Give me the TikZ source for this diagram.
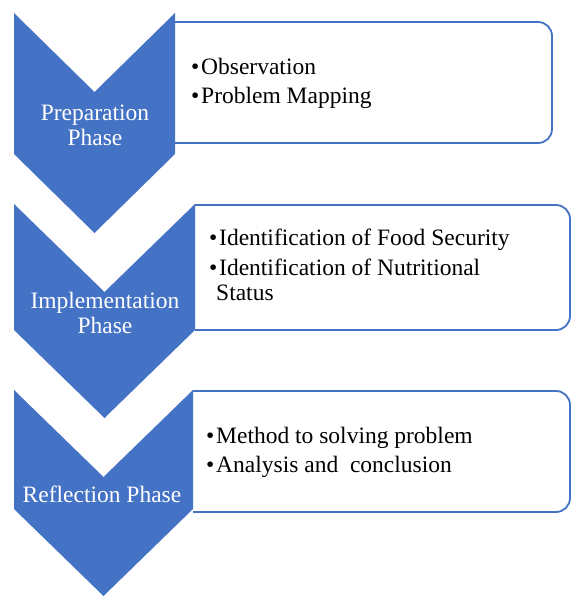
\documentclass[tikz,border=0pt]{standalone}
\usepackage{fontspec}
\setmainfont{Liberation Serif}
\definecolor{phaseblue}{HTML}{4472C4}
\tikzset{
  phase/.style={fill=phaseblue},
  box/.style={draw=phaseblue, line width=1.8pt, fill=white, rounded corners=14pt},
  phasetext/.style={text=white, align=center, inner sep=0pt, font=\fontsize{23.5}{25}\selectfont},
  itemtext/.style={anchor=base west, inner sep=0pt, align=left, font=\fontsize{23.5}{25}\selectfont}
}
\newcommand{\bul}{\makebox[10pt][l]{\textbullet}}

\begin{document}
\begin{tikzpicture}[x=1pt,y=-1pt]
\useasboundingbox (0,0) rectangle (571,596);
% boxes, open on the left where the chevrons cover them
\draw[box] (175,22) -- (552,22) -- (552,143) -- (175,143);
\draw[box] (195,205) -- (570,205) -- (570,330) -- (195,330);
\draw[box] (193,391) -- (570,391) -- (570,512) -- (193,512);
% chevrons: left/right/top/notch depth/bottom
\foreach \l/\r/\t/\d/\b in {14/175/13/79/154, 14/195/204/88/330, 14/193/390/87/509}
  \fill[phase] (\l,\t) -- ({(\l+\r)/2},\t+\d) -- (\r,\t) -- (\r,\b)
    -- ({(\l+\r)/2},\b+\d) -- (\l,\b) -- cycle;
\node[phasetext] (prep) at (95,125) {Preparation\\Phase};
\node[phasetext] (impl) at (105,313) {Implementation\\Phase};
\node[phasetext] (refl) at (102,494) {Reflection Phase};
% items
\node[itemtext] (obs) at (191,75) {\bul Observation};
\node[itemtext] (map) at (191,104) {\bul Problem Mapping};
\node[itemtext] (food) at (209,245) {\bul Identification of Food Security};
\node[itemtext] (nutr) at (209,300) {\bul Identification of Nutritional\\\hspace*{7pt}Status};
\node[itemtext] (method) at (206,443) {\bul Method to solving problem};
\node[itemtext] (analysis) at (206,472) {\bul Analysis and\ \ conclusion};
\end{tikzpicture}
\end{document}
